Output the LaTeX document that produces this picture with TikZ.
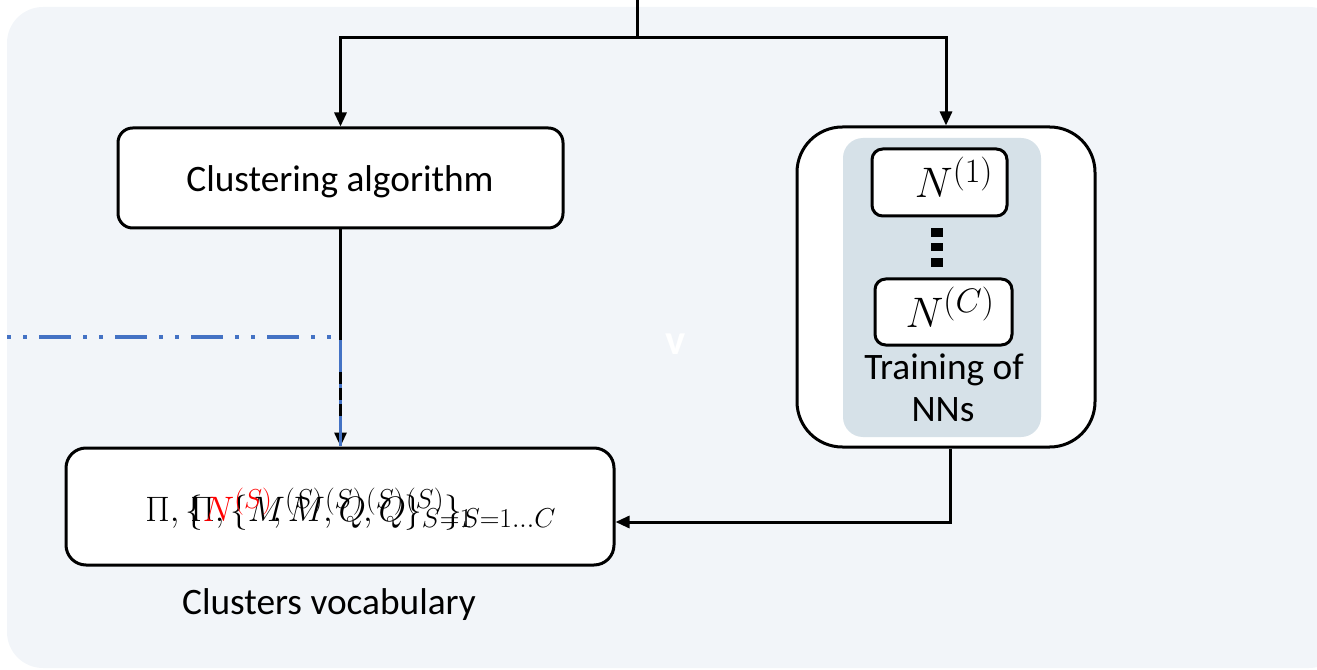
\documentclass[tikz,border=0pt]{standalone}
\usepackage{fix-cm}
\usepackage[no-math]{fontspec}
\setmainfont{Carlito}
\usepackage{amsmath}
\DeclareMathSizes{26.5}{26.5}{20.5}{15.5}
\DeclareMathSizes{32}{32}{25.5}{19}
\usetikzlibrary{arrows.meta,calc}
\definecolor{panel}{HTML}{F2F5F9}
\definecolor{innerfill}{HTML}{D6E1E8}
\definecolor{dashblue}{HTML}{4472C4}
\tikzset{
  wire/.style={line width=2.25pt, draw=black},
  arrowwire/.style={wire, -{Triangle[width=9pt,length=10.5pt]}},
  stepbox/.style={draw=black, line width=2.25pt, fill=white, inner sep=0pt},
  lbl/.style={font=\fontsize{28}{33}\selectfont, inner sep=0pt},
  mathlbl/.style={font=\fontsize{26.5}{32}\selectfont, inner sep=0pt},
  netlbl/.style={font=\fontsize{32}{37}\selectfont, inner sep=0pt},
  blueline/.style={draw=dashblue, line width=3pt}
}
\begin{document}
\begin{tikzpicture}[x=0.75pt,y=-0.75pt]
\useasboundingbox (0,0) rectangle (1317,670);
\clip (0,0) rectangle (1317,670);
% panel
\fill[panel, rounded corners=27pt] (7,7) rectangle (1345,668);

% boxes
\node[stepbox, rounded corners=11pt, minimum width=333.75pt, minimum height=75pt]
  (clust) at (340.5,178) {};
\node[lbl, anchor=base] (clusttext) at (340,192) {Clustering algorithm};
\node[stepbox, rounded corners=34pt, minimum width=223.5pt, minimum height=240pt]
  (nnbox) at (946,287) {};
\node[fill=innerfill, rounded corners=15pt, minimum width=148.5pt, minimum height=224.25pt, inner sep=0pt]
  (inner) at (942,287.5) {};
\node[stepbox, rounded corners=8pt, minimum width=101.25pt, minimum height=50.25pt]
  (n1) at (939.5,182.5) {};
\node[netlbl, anchor=base] (n1text) at (954,198) {$N^{(1)}$};
\node[stepbox, rounded corners=8pt, minimum width=102.75pt, minimum height=49.5pt]
  (nc) at (943.5,312) {};
\node[netlbl, anchor=base] (nctext) at (950,328) {$N^{(C)}$};
\node[lbl, anchor=base] (train1) at (944,379) {Training of};
\node[lbl, anchor=base] (train2) at (943,421) {NNs};
% vertical ellipsis between the two networks
\fill (931,228) rectangle (943,237);
\fill (931,243) rectangle (943,251);
\fill (931,258) rectangle (943,267);

\node[stepbox, rounded corners=15pt, minimum width=411pt, minimum height=87.75pt]
  (vocab) at (340,506.5) {};
% two overlapping copies of the vocabulary formula
\node[mathlbl, anchor=base west] (formB) at (190,521)
  {$\Pi, \{M^{(S)}, Q^{(S)}\}_{S=1}$};
\node[mathlbl, anchor=base west] (formA) at (145,521)
  {$\Pi, \{{\color{red}N^{(S)}}, M^{(S)}, Q^{(S)}\}_{S=1\ldots C}$};
\node[lbl, anchor=base] (vocabcap) at (329,614) {Clusters vocabulary};

\node[font=\fontsize{32}{36}\selectfont\bfseries, text=white, inner sep=0pt] (vmark) at (676,344) {v};

% connectors
\coordinate (top) at (637,0);
\coordinate (split) at (637,38);
\draw[wire] (top) -- (split);
\draw[arrowwire] (split) -| (clust.north);
\draw[arrowwire] (split) -| (nnbox.north);
\draw[arrowwire] (clust.south) -- (clust.south |- vocab.north);
\coordinate (vin) at ($(vocab.east)+(0,15.5)$);
\draw[arrowwire] ([xshift=3pt]nnbox.south) |- (vin);

% dash-dot-dot guide
\coordinate (gstart) at (7,337);
\coordinate (gend) at (333,337);
\draw[blueline, dash pattern=on 3pt off 9pt on 3pt off 9pt on 24pt off 9pt] (gstart) -- (gend);
\coordinate (vstart) at (340.5,340);
\coordinate (vend) at (340.5,446);
\draw[blueline, line width=2.6pt, dash pattern=on 24pt off 9pt on 3pt off 9pt on 3pt off 9pt] (vstart) -- (vend);
\end{tikzpicture}
\end{document}
